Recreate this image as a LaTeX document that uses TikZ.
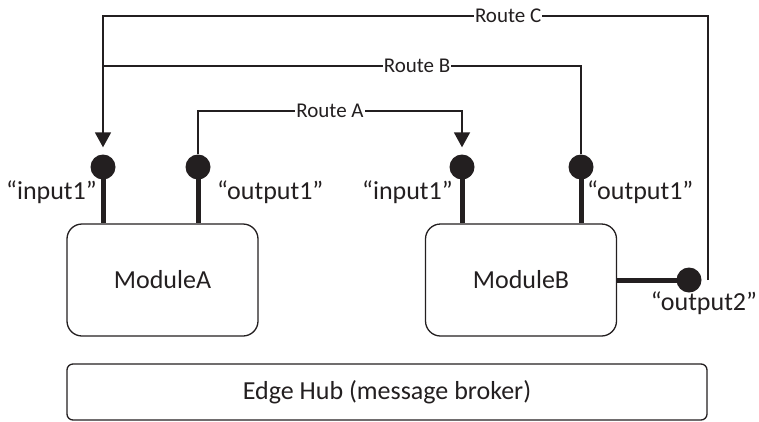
\documentclass[tikz,border=0pt]{standalone}
\usepackage{fontspec}
\setmainfont{Carlito}
\usetikzlibrary{arrows.meta}
\definecolor{ink}{HTML}{231F20}
\tikzset{
  module/.style={draw=ink,line width=1.3pt,rounded corners=15pt,minimum width=191pt,minimum height=112pt,text=ink,font=\fontsize{26}{30}\selectfont},
  hubbox/.style={draw=ink,line width=1.3pt,rounded corners=6pt,minimum width=640pt,minimum height=56pt,text=ink,font=\fontsize{26}{30}\selectfont},
  port/.style={circle,fill=ink,inner sep=0pt,minimum size=25pt},
  stem/.style={draw=ink,line width=5pt},
  route/.style={draw=ink,line width=1.8pt},
  lbl/.style={text=ink,inner sep=0pt,font=\fontsize{26}{30}\selectfont},
  rlbl/.style={fill=white,text=ink,inner sep=1pt,font=\fontsize{21}{24}\selectfont},
  tip/.style={-{Triangle[width=16pt,length=15pt]},shorten >=7pt}
}
\begin{document}
\begin{tikzpicture}[x=1pt,y=-1pt]
    \useasboundingbox (0,0) rectangle (759,421);
    % modules and broker
    \node[module] (A) at (162.5,280) {ModuleA};
    \node[module] (B) at (521,280) {ModuleB};
    \node[hubbox] (hub) at (387,392) {Edge Hub (message broker)};
    % ports
    \node[port] (iA) at (103,167) {};
    \node[port] (oA) at (198,167) {};
    \node[port] (iB) at (462,167) {};
    \node[port] (oB) at (581,167) {};
    \node[port] (o2) at (689,280) {};
    \draw[stem] (iA.center) -- (iA |- A.north);
    \draw[stem] (oA.center) -- (oA |- A.north);
    \draw[stem] (iB.center) -- (iB |- B.north);
    \draw[stem] (oB.center) -- (oB |- B.north);
    \draw[stem] (o2.center) -- (o2 -| B.east);
    % port names
    \node[lbl,anchor=east] (niA) at (97,192) {“input1”};
    \node[lbl,anchor=west] (noA) at (217,192) {“output1”};
    \node[lbl,anchor=east] (niB) at (453,192) {“input1”};
    \node[lbl,anchor=west] (noB) at (587,192) {“output1”};
    \node[lbl] (no2) at (704,303) {“output2”};
    % routes
    \coordinate (cC) at ([xshift=6pt]o2.east);
    \draw[route,tip] (oA.north) -- (oA |- 0,111) -- node[rlbl] (rA) {Route A} (iB |- 0,111) -- (iB.north);
    \draw[route] (oB.north) -- (oB |- 0,66) -- node[rlbl,pos=0.343] (rB) {Route B} (iA |- 0,66);
    \draw[route,tip] (cC) -- (cC |- 0,16) -- node[rlbl,pos=0.33] (rC) {Route C} (iA |- 0,16) -- (iA.north);
\end{tikzpicture}
\end{document}
